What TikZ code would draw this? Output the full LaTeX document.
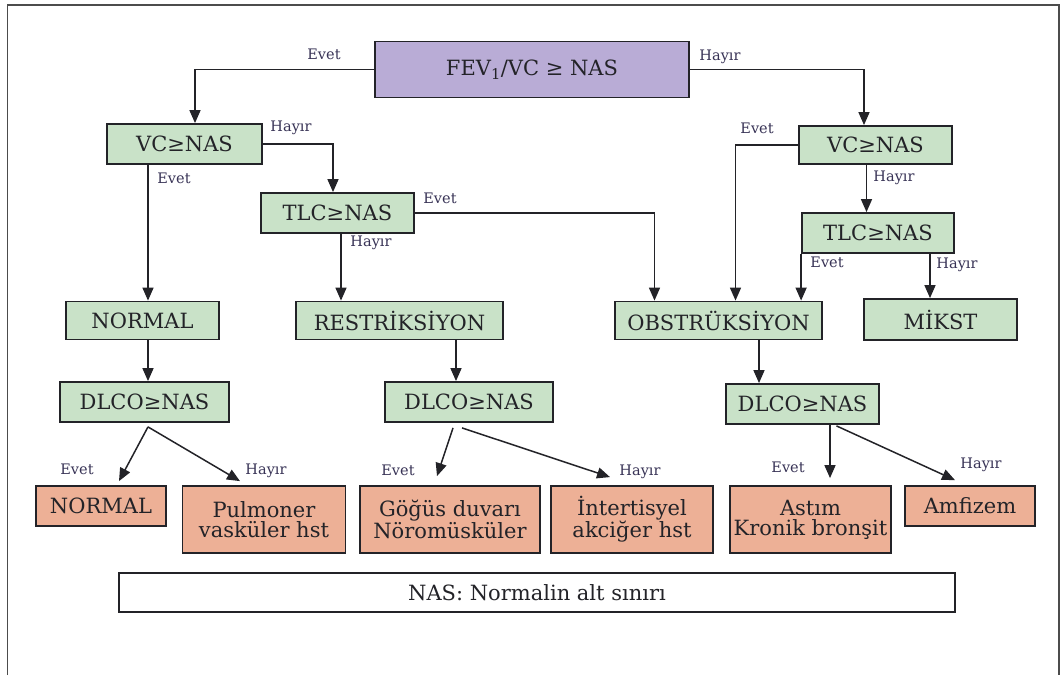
\documentclass[tikz,border=0pt]{standalone}
\usepackage{fontspec}
\setmainfont{DejaVu Serif}
\usetikzlibrary{arrows.meta}
\definecolor{soru}{RGB}{201,226,200}
\definecolor{sonuc}{RGB}{237,176,150}
\definecolor{ana}{RGB}{185,172,214}
\definecolor{cizgi}{RGB}{35,35,40}
\definecolor{yazi}{RGB}{55,50,85}

\begin{document}
\begin{tikzpicture}
  [x=1pt,y=-1pt,
   kutu/.style={rectangle,draw=cizgi,line width=1.8pt,inner sep=0pt,align=center,
     text=cizgi,font=\fontsize{21}{20}\selectfont},
   soruk/.style={kutu,fill=soru,minimum height=40pt},
   sonk/.style={kutu,fill=sonuc},
   etiket/.style={inner sep=0pt,text=yazi,font=\fontsize{14.5}{16}\selectfont},
   ok/.style={draw=cizgi,line width=1.5pt,-{Triangle[length=13pt,width=11pt]}}]
  \useasboundingbox (0,0) rectangle (1062,675);
  \draw[gray!60!black,line width=1.6pt] (7.5,675) -- (7.5,5) -- (1059,5) -- (1059,675);

  % kutular
  \node[kutu,fill=ana,minimum width=314pt,minimum height=56pt] (fev) at (532,69.5) {FEV\textsubscript{1}/VC ≥ NAS};
  \node[soruk,minimum width=155pt] (vcA) at (184.5,144) {VC≥NAS};
  \node[soruk,minimum width=153pt] (tlcA) at (337.5,213) {TLC≥NAS};
  \node[soruk,minimum width=153pt,minimum height=38pt] (vcB) at (875.5,145) {VC≥NAS};
  \node[soruk,minimum width=152pt] (tlcB) at (878,233) {TLC≥NAS};
  \node[soruk,minimum width=153pt,minimum height=38pt] (normA) at (142.5,320.5) {NORMAL};
  \node[soruk,minimum width=207pt,minimum height=38pt] (restr) at (399.5,320.5) {RESTRİKSİYON};
  \node[soruk,minimum width=207pt,minimum height=38pt] (obstr) at (718.5,320.5) {OBSTRÜKSİYON};
  \node[soruk,minimum width=153pt,minimum height=41pt] (mikst) at (940.5,319.5) {MİKST};
  \node[soruk,minimum width=169pt] (dlcoA) at (144.5,402) {DLCO≥NAS};
  \node[soruk,minimum width=168pt] (dlcoB) at (469,402) {DLCO≥NAS};
  \node[soruk,minimum width=153pt] (dlcoC) at (802.5,404) {DLCO≥NAS};
  \node[sonk,minimum width=130pt,minimum height=40pt] (normB) at (101,506) {NORMAL};
  \node[sonk,minimum width=163pt,minimum height=67pt] (pulm) at (264,519.5) {Pulmoner\\vasküler hst};
  \node[sonk,minimum width=180pt,minimum height=67pt] (gogus) at (450,519.5) {Göğüs duvarı\\Nöromüsküler};
  \node[sonk,minimum width=162pt,minimum height=67pt] (inter) at (632,519.5) {İntertisyel\\akciğer hst};
  \node[sonk,minimum width=161pt,minimum height=67pt] (astim) at (810.5,519.5) {Astım\\Kronik bronşit};
  \node[sonk,minimum width=130pt,minimum height=40pt] (amf) at (970,506) {Amfizem};
  \node[kutu,fill=white,minimum width=836pt,minimum height=39pt] (nas) at (537,592.5) {NAS: Normalin alt sınırı};

  % etiketler
  \foreach \n/\t/\x/\y in {e1/Evet/324/54, h1/Hayır/720/57, h2/Hayır/291/128, e2/Evet/174/178,
      e3/Evet/440/198, h3/Hayır/371/243, e4/Evet/757/128, h4/Hayır/894/178,
      e5/Evet/827/262, h5/Hayır/957/265, e6/Evet/77/469, h6/Hayır/266/471,
      e7/Evet/398/470, h7/Hayır/640/472, e8/Evet/788/467, h8/Hayır/981/465}
    \node[etiket] (\n) at (\x,\y) {\t};

  % oklar
  \draw[ok] (fev.west) -| ([xshift=10.5pt]vcA.north);
  \draw[ok] (fev.east) -| ([xshift=-11.5pt]vcB.north);
  \draw[ok] (vcA.east) -| ([xshift=-4.5pt]tlcA.north);
  \draw[ok] ([xshift=5.5pt]normA.north |- vcA.south) -- ([xshift=5.5pt]normA.north);
  \draw[ok] ([xshift=3.5pt]tlcA.south) -- ([xshift=3.5pt]tlcA.south |- restr.north);
  \draw[ok] (tlcA.east) -| ([xshift=-64pt]obstr.north);
  \draw[ok] (vcB.west) -| ([xshift=17pt]obstr.north);
  \draw[ok] ([xshift=-9pt]vcB.south) -- ([xshift=-9pt]vcB.south |- tlcB.north);
  \draw[ok] (tlcB.south west) -- (tlcB.south west |- obstr.north);
  \draw[ok] ([xshift=52pt]tlcB.south) -- ([xshift=52pt]tlcB.south |- mikst.north);
  \draw[ok] ([xshift=5.5pt]normA.south) -- ([xshift=5.5pt]normA.south |- dlcoA.north);
  \draw[ok] ([xshift=-13pt]dlcoB.north |- restr.south) -- ([xshift=-13pt]dlcoB.north);
  \draw[ok] ([xshift=-43.5pt]dlcoC.north |- obstr.south) -- ([xshift=-43.5pt]dlcoC.north);
  \foreach \from/\fx/\fy/\to/\tx/\ty in {dlcoA/3.5/-4/normB/18/4, dlcoA/3.5/-4/pulm/-24/4,
      dlcoB/-16/-5/gogus/-13/9, dlcoB/-7/-5/inter/-22/8,
      dlcoC/27.5/0/astim/19.5/7, dlcoC/34/-1/amf/-15/5}
    \draw[ok] ([shift={(\fx pt,\fy pt)}]\from.south) -- ([shift={(\tx pt,\ty pt)}]\to.north);
\end{tikzpicture}
\end{document}
